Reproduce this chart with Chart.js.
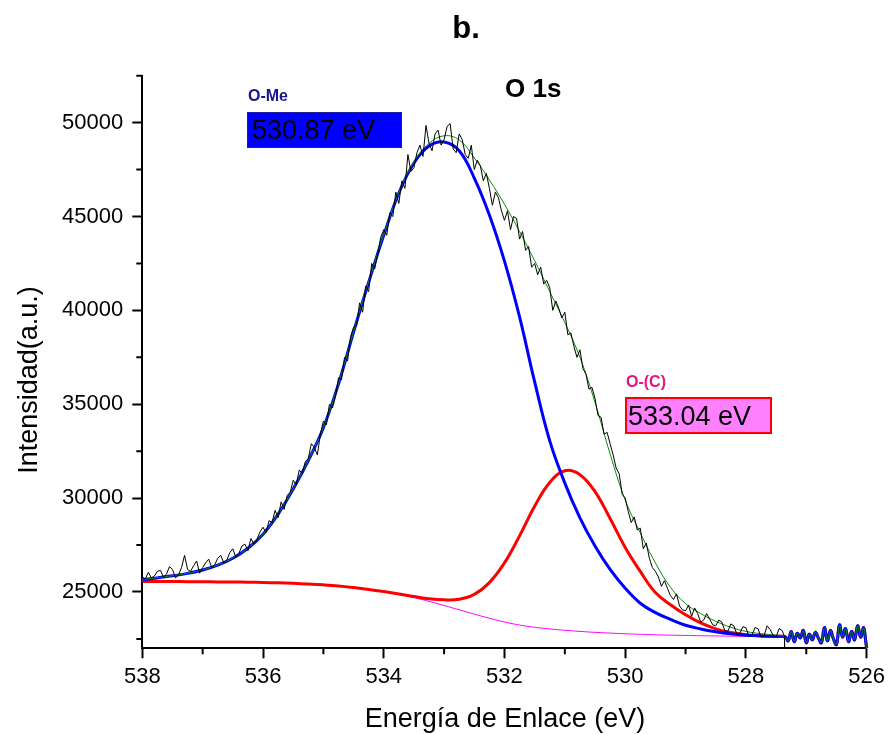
<!DOCTYPE html>
<html>
<head>
<meta charset="utf-8">
<script src="https://cdn.jsdelivr.net/npm/chart.js@4.4.0/dist/chart.umd.min.js"></script>
<style>
    html, body { margin: 0; padding: 0; background: #fff; }
    #xpsChart { display: block; }
</style>
</head>
<body>
<canvas id="xpsChart" width="890" height="734"></canvas>
<script>
// O 1s spectrum, binding energy (eV) vs counts
const rawStart = 538.0;
const rawStep = 0.05;
const rawIntensity = [
    25800, 25700, 26050, 25750, 25850, 26100, 26150, 25800, 25950, 26350,
    26200, 25750, 25900, 26300, 26950, 26200, 26100, 26400, 26650, 26000,
    26300, 26550, 26750, 26300, 26450, 26800, 26950, 26550, 26700, 27100,
    27300, 26850, 27050, 27450, 27550, 27200, 27850, 27550, 27800, 28200,
    28450, 28150, 28800, 28700, 29350, 28950, 29800, 29400, 30150, 30300,
    30950, 30700, 31500, 31300, 31950, 32100, 32900, 32700, 32300, 33400,
    34100, 33900, 35000, 34800, 35400, 36400, 36300, 37500, 37300, 38600,
    39100, 39200, 40400, 39900, 41300, 41000, 42500, 42200, 43000, 43900,
    44300, 44000, 45200, 45000, 46300, 45700, 46900, 46500, 48300, 47400,
    47600, 48400, 48800, 48200, 49850, 48900, 48500, 49400, 49600, 48800,
    49100, 49800, 49950, 48600, 48400, 49400, 49100, 48300, 48100, 48800,
    47500, 48000, 47700, 46900, 47300, 46500, 45600, 46300, 46000, 45300,
    44800, 45300, 44300, 45000, 44900, 43800, 44200, 43200, 43400, 42300,
    42500, 41900, 42300, 41400, 41600, 41200, 40000, 40500, 40100, 39600,
    39900, 38700, 38800, 38100, 37500, 37900, 36900, 36600, 35800, 35900,
    35300, 34400, 34300, 33400, 33500, 32900, 32300, 31600, 31300, 30200,
    30000, 29300, 28700, 29000, 28300, 28400, 27300, 27600, 26800, 26300,
    26100, 25800, 25300, 25600, 25200, 24800, 24600, 24900, 24250, 24050,
    24000, 24300, 23700, 24150, 23850, 23400, 23500, 23850, 23550, 23250,
    23200, 23500, 23400, 22950, 22900, 23300, 23200, 22750, 22800, 23150,
    23100, 22650, 22700, 23100, 23050, 22600, 22650, 23200, 23000, 22700,
    22600, 23050, 22950
];
// the measured trace stops here and falls to the axis
const rawCutEnergy = [527.36, 527.36];
const rawCutIntensity = [22620, 22000];

const fitEnergy = [
    538, 537.75, 537.5, 537.25, 537, 536.75, 536.5, 536.25, 536, 535.75, 535.5,
    535.25, 535, 534.75, 534.5, 534.25, 534, 533.75, 533.5, 533.25, 533,
    532.75, 532.5, 532.25, 532, 531.75, 531.5, 531.25, 531, 530.75, 530.5,
    530.25, 530, 529.75, 529.5, 529.25, 529, 528.75, 528.5, 528.25, 528,
    527.75, 527.5
];
const envelopeFit = [
    25660, 25760, 25870, 26000, 26180, 26440, 26810, 27340, 28090, 29160, 30490,
    32010, 33760, 36095, 38870, 41540, 44030, 46290, 47920, 48890, 49300,
    49080, 48120, 46950, 45650, 44200, 42650, 41000, 39350, 37500, 35100,
    32350, 29900, 28150, 26550, 25250, 24380, 23850, 23440, 23120, 22900,
    22780, 22700
];
const oMePeak = [
    25650, 25750, 25860, 25990, 26170, 26430, 26800, 27330, 28080, 29150, 30480,
    32000, 33750, 36080, 38850, 41500, 44000, 46250, 47850, 48750, 48970,
    48500, 47050, 45080, 42620, 39650, 36190, 33050, 30800, 28950, 27450,
    26200, 25200, 24400, 23900, 23540, 23230, 23030, 22880, 22770, 22700,
    22660, 22635
];
const oCPeak = [
    25560, 25558, 25555, 25550, 25545, 25538, 25530, 25520, 25505, 25485, 25460,
    25425, 25380, 25320, 25235, 25135, 25020, 24895, 24760, 24640, 24580,
    24610, 24870, 25500, 26550, 27990, 29570, 30830, 31460, 31250, 30350,
    28910, 27375, 26095, 24970, 24320, 23785, 23350, 23038, 22838, 22725,
    22668, 22638
];
const background = [
    25560, 25558, 25555, 25550, 25545, 25538, 25530, 25518, 25505, 25485, 25460,
    25425, 25380, 25315, 25230, 25130, 25010, 24870, 24700, 24500, 24280,
    24050, 23820, 23600, 23400, 23240, 23120, 23030, 22960, 22900, 22850,
    22810, 22775, 22745, 22720, 22700, 22685, 22670, 22658, 22648, 22640,
    22633, 22628
];

// low-energy end where every fitted curve follows the data
const tailEnergy = [
    527.35, 527.3, 527.25, 527.2, 527.15, 527.1, 527.05, 527.0, 526.95, 526.9,
    526.85, 526.8, 526.75, 526.7, 526.65, 526.6, 526.55, 526.5, 526.45, 526.4,
    526.35, 526.3, 526.25, 526.2, 526.15, 526.1, 526.05, 526.02, 526.0
];
const tailIntensity = [
    22620, 22400, 22900, 22350, 22800, 22550, 22950, 22300, 22750, 22450,
    22850, 22550, 22300, 23100, 22400, 22950, 22500, 22200, 23250, 22600,
    23050, 22350, 22900, 22450, 23200, 22600, 23100, 22500, 22000
];

const xTickValues = [538, 536, 534, 532, 530, 528, 526];
const xMinorTicks = [537, 535, 533, 531, 529, 527];
const yTickValues = [25000, 30000, 35000, 40000, 45000, 50000];
const yMinorTicks = [22500, 27500, 32500, 37500, 42500, 47500, 52500];

const FONT = "'Liberation Sans', Arial, sans-serif";

function toPoints(xs, ys) {
    return xs.map((x, i) => ({ x: x, y: ys[i] }));
}

function fitCurve(values) {
    return toPoints(fitEnergy, values).concat(toPoints(tailEnergy, tailIntensity));
}

function rawPoints() {
    const pts = rawIntensity.map((y, i) => ({
        x: Math.round((rawStart - i * rawStep) * 100) / 100,
        y: y
    }));
    return pts.concat(toPoints(rawCutEnergy, rawCutIntensity));
}

// small ticks between the labelled ones
const minorTicks = {
    id: 'minorTicks',
    afterDraw(chart) {
        const { ctx, chartArea, scales } = chart;
        ctx.save();
        ctx.strokeStyle = '#000';
        ctx.lineWidth = 2;
        ctx.beginPath();
        xMinorTicks.forEach(v => {
            const px = scales.x.getPixelForValue(v);
            ctx.moveTo(px, chartArea.bottom);
            ctx.lineTo(px, chartArea.bottom + 6);
        });
        yMinorTicks.forEach(v => {
            const py = scales.y.getPixelForValue(v);
            ctx.moveTo(chartArea.left, py);
            ctx.lineTo(chartArea.left - 6, py);
        });
        ctx.stroke();
        ctx.restore();
    }
};

// title, peak labels and axis titles
const annotations = {
    id: 'annotations',
    afterDraw(chart) {
        const ctx = chart.ctx;
        ctx.save();
        ctx.textBaseline = 'alphabetic';
        ctx.fillStyle = '#000';

        ctx.textAlign = 'center';
        ctx.font = `bold 31px ${FONT}`;
        ctx.fillText('b.', 466, 38);

        ctx.textAlign = 'left';
        ctx.font = `bold 26px ${FONT}`;
        ctx.fillText('O 1s', 505, 97);

        // O-Me box
        ctx.font = `bold 16px ${FONT}`;
        ctx.fillStyle = '#16168a';
        ctx.fillText('O-Me', 248, 101);
        ctx.fillStyle = '#0000ff';
        ctx.fillRect(247.5, 112.5, 154, 35);
        ctx.strokeStyle = '#1c1c9c';
        ctx.lineWidth = 1;
        ctx.strokeRect(247.5, 112.5, 154, 35);
        ctx.fillStyle = '#000';
        ctx.font = `27px ${FONT}`;
        ctx.fillText('530.87 eV', 252, 139);

        // O-(C) box
        ctx.font = `bold 16px ${FONT}`;
        ctx.fillStyle = '#ea1480';
        ctx.fillText('O-(C)', 626, 387);
        ctx.fillStyle = '#ff80ff';
        ctx.fillRect(626, 398, 145, 35);
        ctx.strokeStyle = '#ff0000';
        ctx.lineWidth = 2;
        ctx.strokeRect(626, 398, 145, 35);
        ctx.fillStyle = '#000';
        ctx.font = `27px ${FONT}`;
        ctx.fillText('533.04 eV', 628, 425);

        // axis titles
        ctx.font = `27px ${FONT}`;
        ctx.textAlign = 'center';
        ctx.fillText('Energía de Enlace (eV)', 505, 727);
        ctx.translate(37, 380);
        ctx.rotate(-Math.PI / 2);
        ctx.fillText('Intensidad(a.u.)', 0, 0);
        ctx.restore();
    }
};

const axisStyle = {
    grid: {
        drawOnChartArea: false,
        drawTicks: true,
        tickLength: 10,
        tickWidth: 2,
        tickColor: '#000'
    },
    border: { color: '#000', width: 2 }
};

new Chart(document.getElementById('xpsChart'), {
    type: 'line',
    data: {
        datasets: [
            {
                label: 'Datos',
                data: rawPoints(),
                borderColor: '#000000',
                borderWidth: 1,
                pointRadius: 0,
                tension: 0,
                clip: 3
            },
            {
                label: 'Envolvente',
                data: fitCurve(envelopeFit),
                borderColor: '#0a8a0a',
                borderWidth: 1,
                pointRadius: 0,
                tension: 0.4,
                clip: 3
            },
            {
                label: 'O-Me',
                data: fitCurve(oMePeak),
                borderColor: '#0000ff',
                borderWidth: 3,
                pointRadius: 0,
                tension: 0.4,
                clip: 3
            },
            {
                label: 'O-(C)',
                data: fitCurve(oCPeak),
                borderColor: '#ff0000',
                borderWidth: 3,
                pointRadius: 0,
                tension: 0.4,
                clip: 3
            },
            {
                label: 'Fondo',
                data: fitCurve(background),
                borderColor: '#ff00ff',
                borderWidth: 1,
                pointRadius: 0,
                tension: 0.4,
                clip: 3
            }
        ]
    },
    options: {
        responsive: false,
        devicePixelRatio: 1,
        animation: false,
        layout: {
            padding: { top: 75.7, right: 22, bottom: 0, left: 0 }
        },
        plugins: {
            legend: { display: false },
            tooltip: { enabled: false },
            title: { display: false }
        },
        scales: {
            x: {
                type: 'linear',
                reverse: true,
                min: 526,
                max: 538,
                afterBuildTicks: (scale) => {
                    scale.ticks = xTickValues.map(v => ({ value: v }));
                },
                afterFit: (scale) => {
                    scale.height = 85.7;
                },
                ticks: {
                    color: '#000',
                    padding: 5,
                    maxRotation: 0,
                    autoSkip: false,
                    font: { family: FONT, size: 22 },
                    callback: (value) => String(value)
                },
                ...axisStyle
            },
            y: {
                type: 'linear',
                min: 22000,
                max: 52500,
                afterBuildTicks: (scale) => {
                    scale.ticks = yTickValues.map(v => ({ value: v }));
                },
                afterFit: (scale) => {
                    scale.width = 142.3;
                },
                ticks: {
                    color: '#000',
                    padding: 9,
                    autoSkip: false,
                    font: { family: FONT, size: 22 },
                    callback: (value) => String(value)
                },
                ...axisStyle
            }
        }
    },
    plugins: [minorTicks, annotations]
});
</script>
</body>
</html>
